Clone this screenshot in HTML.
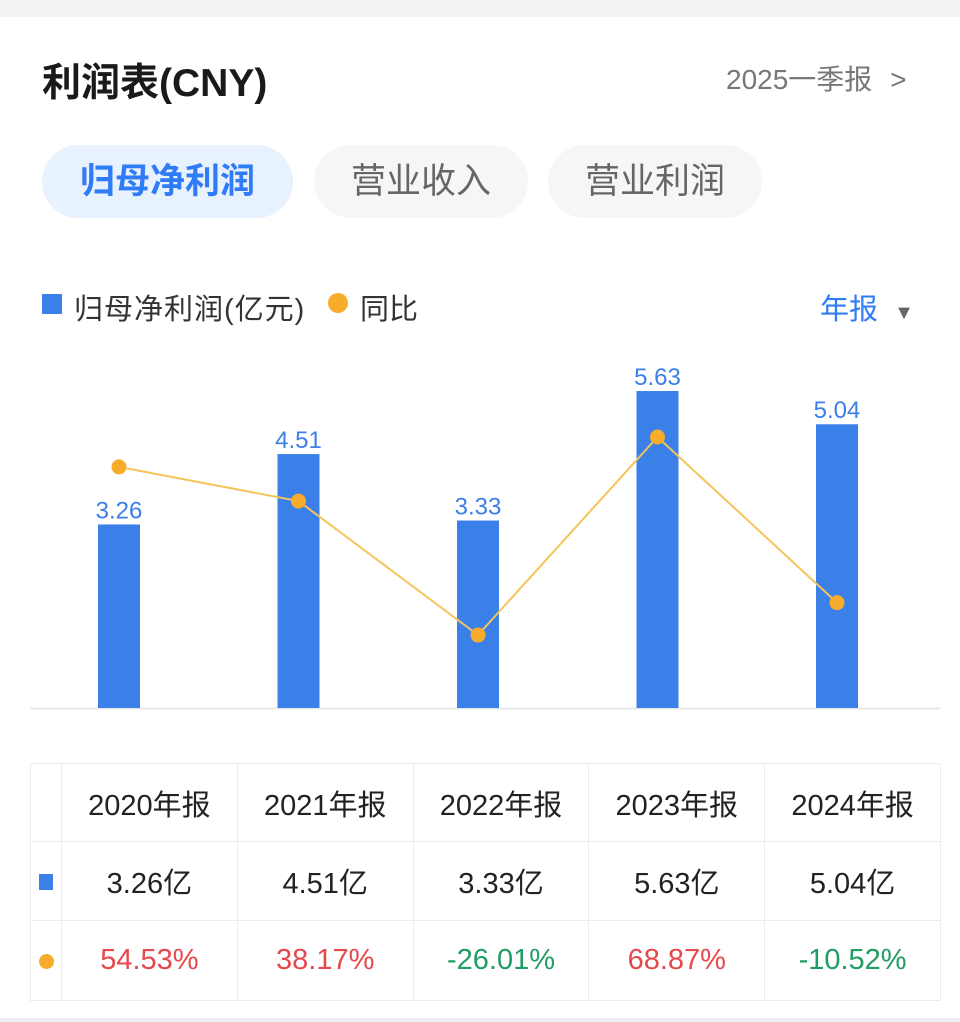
<!DOCTYPE html>
<html><head><meta charset="utf-8">
<style>
body{margin:0;width:960px;height:1022px;background:#fff;font-family:"Liberation Sans","Noto Sans CJK SC",sans-serif;position:relative;overflow:hidden}
.abs{position:absolute}
.tab{position:absolute;top:145px;height:73px;border-radius:37px;background:#f5f6f8;color:#666;font-size:35px;line-height:73px;text-align:center}
table{position:absolute;left:30px;top:763px;border-collapse:collapse;width:911px}
td{border:1.5px solid #ececec;text-align:center;font-size:29px;color:#222;padding:0}
</style></head><body>
<div class="abs" style="left:0;top:0;width:960px;height:17px;background:#f2f3f5"></div>
<div class="abs" style="left:42px;top:52px;font-size:39px;font-weight:bold;color:#1a1a1a">利润表(CNY)</div>
<div class="abs" style="left:726px;top:58px;font-size:28px;color:#777">2025一季报 <span style="margin-left:10px">&gt;</span></div>
<div class="tab" style="left:42px;width:251px;background:#e8f1fe;color:#2f7cf6;font-weight:bold">归母净利润</div>
<div class="tab" style="left:314px;width:214px">营业收入</div>
<div class="tab" style="left:548px;width:214px">营业利润</div>
<div class="abs" style="left:42px;top:294px;width:20px;height:20px;background:#3b7fe8"></div>
<div class="abs" style="left:74px;top:286px;font-size:29px;color:#333;letter-spacing:1px">归母净利润(亿元)</div>
<div class="abs" style="left:328px;top:293px;width:20px;height:20px;border-radius:50%;background:#f7ad2b"></div>
<div class="abs" style="left:360px;top:286px;font-size:29px;color:#333">同比</div>
<div class="abs" style="left:820px;top:286px;font-size:29px;color:#2f7cf6">年报 <span style="color:#666;font-size:20px;margin-left:8px">▼</span></div>
<svg class="abs" style="left:0;top:0" width="960" height="740" id="chart"></svg>
<table>
<tr style="height:78px"><td style="width:30px"></td><td>2020年报</td><td>2021年报</td><td>2022年报</td><td>2023年报</td><td>2024年报</td></tr>
<tr style="height:79px"><td><span style="display:inline-block;width:14px;height:16px;background:#3b7fe8"></span></td><td>3.26亿</td><td>4.51亿</td><td>3.33亿</td><td>5.63亿</td><td>5.04亿</td></tr>
<tr style="height:80px"><td><span style="display:inline-block;width:15px;height:15px;border-radius:50%;background:#f7ad2b"></span></td><td style="color:#e5484d">54.53%</td><td style="color:#e5484d">38.17%</td><td style="color:#1f9d63">-26.01%</td><td style="color:#e5484d">68.87%</td><td style="color:#1f9d63">-10.52%</td></tr>
</table>
<div class="abs" style="left:0;top:1018px;width:960px;height:4px;background:#eceef1"></div>
<script>
const categories=["2020年报","2021年报","2022年报","2023年报","2024年报"];
const profit=[3.26,4.51,3.33,5.63,5.04];
const yoy=[54.53,38.17,-26.01,68.87,-10.52];
const NS="http://www.w3.org/2000/svg";
const svg=document.getElementById('chart');
const x=i=>119+i*179.5;
const yBar=v=>708-v*56.3;
const yLine=v=>437+(68.87-v)*2.087;
function mk(t,a){const e=document.createElementNS(NS,t);for(const k in a)e.setAttribute(k,a[k]);svg.appendChild(e);return e;}
const base=mk('line',{x1:30,x2:940,y1:708.5,y2:708.5,stroke:'#e6e8eb','stroke-width':2});


profit.forEach((v,i)=>{
 const r=mk('rect',{x:x(i)-21,y:yBar(v),width:42,height:708-yBar(v),fill:'#3b7fe8'});
 
 
 const t=mk('text',{x:x(i),y:yBar(v)-6,'text-anchor':'middle','font-size':24,fill:'#3b7fe8','font-family':'Liberation Sans, sans-serif'});
 t.textContent=v.toFixed(2);
 
 
});
const pl=mk('polyline',{points:yoy.map((v,i)=>x(i)+','+yLine(v)).join(' '),fill:'none',stroke:'#f5c45a','stroke-width':2});


yoy.forEach((v,i)=>{
 const c=mk('circle',{cx:x(i),cy:yLine(v),r:7.5,fill:'#f7ad2b'});
 
 
});
</script>
</body></html>
